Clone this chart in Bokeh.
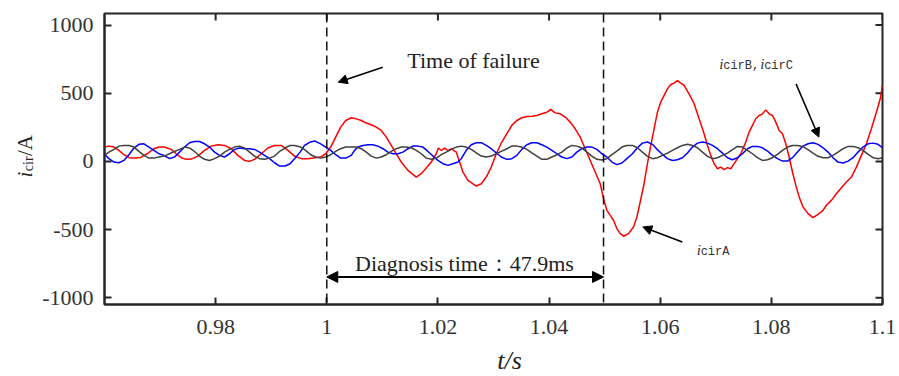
import math
from bokeh.plotting import figure
from bokeh.layouts import row, column
from bokeh.models import (Range1d, FixedTicker, Span, Arrow, NormalHead, Label)
from bokeh.embed import file_html
from bokeh.resources import INLINE

# ---------------- data ----------------
t_a = [0.9599, 0.9608, 0.9617, 0.9626, 0.9635, 0.9644, 0.9653, 0.9665, 0.9677, 0.9689,
       0.9698, 0.9707, 0.9720, 0.9729, 0.9738, 0.9747, 0.9756, 0.9768, 0.9780, 0.9792,
       0.9804, 0.9816, 0.9828, 0.9840, 0.9852, 0.9861, 0.9870, 0.9882, 0.9894, 0.9906,
       0.9918, 0.9930, 0.9942, 0.9954, 0.9966, 0.9979, 0.9989, 0.9998, 1.0007, 1.0016,
       1.0025, 1.0034, 1.0044, 1.0053, 1.0062, 1.0071, 1.0080, 1.0089, 1.0098, 1.0107,
       1.0116, 1.0125, 1.0134, 1.0146, 1.0161, 1.0170, 1.0179, 1.0188, 1.0197, 1.0201,
       1.0206, 1.0212, 1.0218, 1.0224, 1.0233, 1.0239, 1.0245, 1.0254, 1.0269, 1.0278,
       1.0287, 1.0296, 1.0305, 1.0315, 1.0324, 1.0333, 1.0342, 1.0351, 1.0360, 1.0369,
       1.0378, 1.0387, 1.0396, 1.0403, 1.0411, 1.0420, 1.0429, 1.0438, 1.0447, 1.0456,
       1.0465, 1.0474, 1.0483, 1.0492, 1.0498, 1.0504, 1.0510, 1.0516, 1.0522, 1.0528,
       1.0534, 1.0543, 1.0552, 1.0558, 1.0564, 1.0571, 1.0577, 1.0583, 1.0589, 1.0595,
       1.0601, 1.0607, 1.0613, 1.0619, 1.0625, 1.0631, 1.0637, 1.0643, 1.0649, 1.0655,
       1.0661, 1.0667, 1.0673, 1.0679, 1.0685, 1.0691, 1.0697, 1.0703, 1.0709, 1.0715,
       1.0721, 1.0727, 1.0733, 1.0739, 1.0745, 1.0754, 1.0760, 1.0766, 1.0772, 1.0778,
       1.0784, 1.0790, 1.0796, 1.0802, 1.0808, 1.0814, 1.0820, 1.0826, 1.0832, 1.0838,
       1.0844, 1.0851, 1.0857, 1.0866, 1.0875, 1.0884, 1.0893, 1.0899, 1.0908, 1.0917,
       1.0926, 1.0935, 1.0944, 1.0953, 1.0962, 1.0971, 1.0980, 1.0989, 1.0996, 1.1000]
i_a = [105, 112, 105, 81, 49, 27, 24, 29, 56, 93,
       105, 105, 88, 56, 27, 15, 17, 39, 81, 112,
       122, 117, 93, 44, 7, 0, 15, 56, 98, 117,
       117, 81, 39, 20, 20, 27, 32, 56, 105, 178,
       251, 300, 320, 312, 300, 281, 269, 251, 227, 178,
       117, 56, -5, -66, -115, -90, -49, -5, 56, 98,
       80, 98, 80, 92, 68, -5, -78, -139, -181, -164,
       -115, -42, 56, 142, 203, 264, 300, 320, 330, 332,
       337, 349, 361, 381, 356, 349, 325, 288, 239, 178,
       93, 7, -78, -164, -273, -359, -396, -432, -493, -530,
       -549, -530, -481, -408, -298, -164, -17, 117, 239, 361,
       435, 484, 532, 564, 574, 593, 574, 557, 515, 471,
       423, 349, 276, 203, 117, 44, -17, -54, -42, -61,
       -46, -54, -17, 20, 56, 142, 215, 264, 313, 337,
       349, 378, 349, 337, 288, 227, 203, 129, 32, -78,
       -176, -273, -334, -383, -413, -388, -359, -322, -286, -237,
       -193, -151, -115, -42, 44, 129, 239, 361, 459, 560]

t_b = [0.9599, 0.9608, 0.9617, 0.9626, 0.9635, 0.9644, 0.9653, 0.9662, 0.9671, 0.9680,
       0.9689, 0.9698, 0.9707, 0.9717, 0.9726, 0.9735, 0.9744, 0.9753, 0.9762, 0.9771,
       0.9780, 0.9789, 0.9798, 0.9807, 0.9816, 0.9825, 0.9834, 0.9843, 0.9852, 0.9861,
       0.9870, 0.9879, 0.9888, 0.9897, 0.9906, 0.9915, 0.9925, 0.9934, 0.9942, 0.9952,
       0.9960, 0.9970, 0.9979, 0.9989, 0.9998, 1.0007, 1.0016, 1.0025, 1.0034, 1.0044,
       1.0050, 1.0056, 1.0065, 1.0074, 1.0083, 1.0092, 1.0101, 1.0110, 1.0119, 1.0128,
       1.0137, 1.0146, 1.0155, 1.0164, 1.0173, 1.0182, 1.0191, 1.0200, 1.0209, 1.0218,
       1.0227, 1.0236, 1.0242, 1.0251, 1.0260, 1.0269, 1.0278, 1.0287, 1.0296, 1.0305,
       1.0314, 1.0324, 1.0333, 1.0342, 1.0351, 1.0360, 1.0369, 1.0378, 1.0387, 1.0396,
       1.0405, 1.0414, 1.0423, 1.0432, 1.0441, 1.0450, 1.0459, 1.0468, 1.0477, 1.0486,
       1.0495, 1.0504, 1.0513, 1.0522, 1.0531, 1.0540, 1.0550, 1.0559, 1.0568, 1.0577,
       1.0586, 1.0595, 1.0604, 1.0613, 1.0622, 1.0631, 1.0640, 1.0649, 1.0658, 1.0667,
       1.0676, 1.0685, 1.0694, 1.0703, 1.0712, 1.0721, 1.0730, 1.0739, 1.0748, 1.0757,
       1.0766, 1.0775, 1.0784, 1.0793, 1.0802, 1.0811, 1.0820, 1.0829, 1.0838, 1.0847,
       1.0856, 1.0866, 1.0875, 1.0884, 1.0893, 1.0902, 1.0911, 1.0920, 1.0929, 1.0938,
       1.0947, 1.0956, 1.0965, 1.0974, 1.0983, 1.0992, 1.1000]
i_b = [56, 20, -5, -10, 7, 49, 98, 125, 129, 105,
       81, 56, 44, 20, 32, 68, 105, 137, 146, 146,
       129, 105, 68, 44, 32, 56, 88, 98, 93, 93,
       88, 68, 44, 20, -10, -34, -34, -17, 20, 68,
       117, 142, 149, 129, 105, 81, 49, 24, 24, 44,
       81, 105, 117, 122, 122, 112, 93, 68, 56, 56,
       68, 93, 112, 112, 105, 73, 39, 7, -17, -29,
       -17, -5, 20, 81, 122, 137, 137, 117, 93, 63,
       32, 15, 20, 44, 88, 122, 137, 137, 122, 105,
       81, 56, 32, 20, 32, 68, 93, 105, 105, 88,
       56, 32, -5, -24, -12, 20, 56, 100, 134, 142,
       125, 86, 51, 20, 7, 12, 27, 61, 105, 134,
       142, 134, 117, 93, 61, 27, 12, 27, 56, 93,
       110, 110, 100, 76, 44, 20, 2, 2, 27, 68,
       110, 129, 137, 125, 100, 68, 27, -5, -12, 2,
       27, 68, 105, 129, 134, 125, 100]

t_c = [0.9599, 0.9608, 0.9617, 0.9626, 0.9635, 0.9644, 0.9653, 0.9662, 0.9671, 0.9680,
       0.9689, 0.9698, 0.9707, 0.9717, 0.9726, 0.9735, 0.9744, 0.9753, 0.9762, 0.9771,
       0.9780, 0.9789, 0.9798, 0.9807, 0.9816, 0.9825, 0.9834, 0.9843, 0.9852, 0.9861,
       0.9870, 0.9879, 0.9888, 0.9897, 0.9906, 0.9915, 0.9925, 0.9934, 0.9942, 0.9953,
       0.9962, 0.9971, 0.9980, 0.9989, 0.9998, 1.0007, 1.0016, 1.0025, 1.0034, 1.0044,
       1.0053, 1.0062, 1.0071, 1.0080, 1.0089, 1.0098, 1.0107, 1.0116, 1.0125, 1.0134,
       1.0143, 1.0153, 1.0161, 1.0170, 1.0179, 1.0188, 1.0197, 1.0206, 1.0215, 1.0224,
       1.0233, 1.0242, 1.0251, 1.0260, 1.0269, 1.0278, 1.0287, 1.0296, 1.0305, 1.0314,
       1.0324, 1.0333, 1.0342, 1.0351, 1.0360, 1.0369, 1.0378, 1.0387, 1.0396, 1.0405,
       1.0414, 1.0423, 1.0432, 1.0441, 1.0450, 1.0459, 1.0468, 1.0477, 1.0486, 1.0495,
       1.0504, 1.0513, 1.0522, 1.0531, 1.0540, 1.0550, 1.0559, 1.0568, 1.0577, 1.0586,
       1.0595, 1.0604, 1.0613, 1.0622, 1.0631, 1.0640, 1.0649, 1.0658, 1.0667, 1.0676,
       1.0685, 1.0694, 1.0703, 1.0712, 1.0721, 1.0730, 1.0739, 1.0748, 1.0757, 1.0766,
       1.0775, 1.0784, 1.0793, 1.0802, 1.0811, 1.0820, 1.0829, 1.0838, 1.0847, 1.0856,
       1.0866, 1.0875, 1.0884, 1.0893, 1.0902, 1.0911, 1.0920, 1.0929, 1.0938, 1.0947,
       1.0956, 1.0965, 1.0974, 1.0983, 1.0992, 1.1000]
i_c = [44, 68, 88, 112, 117, 117, 105, 73, 44, 24,
       24, 32, 39, 56, 73, 88, 105, 98, 73, 39,
       15, 7, 20, 39, 68, 88, 105, 112, 98, 68,
       39, 20, 15, 24, 39, 73, 98, 117, 117, 105,
       81, 49, 32, 24, 32, 49, 73, 93, 105, 105,
       105, 93, 68, 39, 24, 32, 49, 73, 93, 105,
       105, 98, 81, 56, 24, 15, 24, 49, 68, 88,
       105, 112, 105, 88, 63, 39, 32, 39, 56, 73,
       93, 112, 112, 105, 88, 63, 39, 15, 15, 32,
       49, 68, 98, 117, 112, 98, 68, 39, 15, 10,
       20, 50, 75, 105, 117, 117, 100, 68, 37, 20,
       27, 44, 61, 81, 100, 117, 125, 117, 100, 68,
       37, 20, 27, 44, 61, 86, 110, 105, 81, 56,
       27, 7, 12, 27, 51, 81, 105, 117, 117, 110,
       86, 61, 37, 27, 27, 44, 68, 93, 110, 110,
       100, 81, 51, 27, 20, 27]

x_ticks = [0.98, 1.0, 1.02, 1.04, 1.06, 1.08, 1.1]
x_tick_labels = ["0.98", "1", "1.02", "1.04", "1.06", "1.08", "1.1"]
y_ticks = [-1000, -500, 0, 500, 1000]
y_tick_labels = ["-1000", "-500", "0", "500", "1000"]

t_fault = 1.0
t_detect = 1.0498
y_diag = -848

X0, X1 = 0.96, 1.1
Y0, Y1 = -1050, 1085

SERIF = "Liberation Serif"
MONO = "Liberation Mono"
AX = "#262626"
TXT = "#333333"
DARK = "#222222"

# frame geometry (pixels)
YSTRIP_W = 38
TOP_H = 345
BORDER_TOP = 13
BORDER_BOTTOM = TOP_H - 304
FRAME_W = 778
FRAME_H = TOP_H - BORDER_TOP - BORDER_BOTTOM
TICK = 7

xr = Range1d(X0, X1)
yr = Range1d(Y0, Y1)

p = figure(width=899 - YSTRIP_W, height=TOP_H, output_backend="svg",
           toolbar_location=None, x_range=xr, y_range=yr,
           min_border_left=104 - YSTRIP_W, min_border_right=17,
           min_border_top=BORDER_TOP, min_border_bottom=BORDER_BOTTOM)
p.background_fill_color = "white"
p.border_fill_color = "white"
p.outline_line_color = AX
p.outline_line_width = 2
p.xgrid.visible = False
p.ygrid.visible = False


def style_axis(ax, ticks, labels, standoff):
    ax.ticker = FixedTicker(ticks=ticks)
    ax.major_label_overrides = {tk: lb for tk, lb in zip(ticks, labels)}
    ax.axis_line_color = AX
    ax.axis_line_width = 2
    ax.major_tick_line_color = AX
    ax.major_tick_line_width = 2
    ax.major_tick_in = TICK
    ax.major_tick_out = 0
    ax.minor_tick_in = 0
    ax.minor_tick_out = 0
    ax.major_label_text_font = SERIF
    ax.major_label_text_color = TXT
    ax.major_label_text_font_size = "22px"
    ax.major_label_standoff = standoff


style_axis(p.xaxis[0], x_ticks, x_tick_labels, 15)
style_axis(p.yaxis[0], y_ticks, y_tick_labels, 11)

# inward ticks on the top and right edges of the box
dy_tick = TICK * (Y1 - Y0) / FRAME_H
dx_tick = TICK * (X1 - X0) / FRAME_W
p.segment(x0=x_ticks, y0=[Y1] * len(x_ticks), x1=x_ticks,
          y1=[Y1 - dy_tick] * len(x_ticks), line_color=AX, line_width=2)
p.segment(x0=[X1] * len(y_ticks), y0=y_ticks, x1=[X1 - dx_tick] * len(y_ticks),
          y1=y_ticks, line_color=AX, line_width=2)

# curves
p.line(t_a, i_a, line_color="#ff0000", line_width=1.5)
p.line(t_b, i_b, line_color="#0000ff", line_width=1.5)
p.line(t_c, i_c, line_color="#404040", line_width=1.5)

# dashed event lines
for loc in (t_fault, t_detect):
    p.add_layout(Span(location=loc, dimension="height", line_color="#111111",
                      line_width=1.5, line_dash="9 5"))

# diagnosis arrow
p.add_layout(Arrow(start=NormalHead(size=11, fill_color="black", line_color="black"),
                   end=NormalHead(size=11, fill_color="black", line_color="black"),
                   x_start=t_fault, y_start=y_diag, x_end=t_detect, y_end=y_diag,
                   line_color="black", line_width=2))
p.add_layout(Label(x=1.02477, y=-750, text="Diagnosis time：47.9ms",
                   text_font=SERIF, text_font_size="22px", text_color=DARK,
                   text_align="center", text_baseline="middle"))

# time of failure
p.add_layout(Label(x=1.02640, y=739, text="Time of failure",
                   text_font=SERIF, text_font_size="22px", text_color=DARK,
                   text_align="center", text_baseline="middle"))
p.add_layout(Arrow(end=NormalHead(size=9, fill_color="black", line_color="black"),
                   x_start=1.01008, y_start=691, x_end=1.00206, y_end=581,
                   line_color="black", line_width=1.5))

# i_cirB, i_cirC
for (xi, xs, sub) in ((1.07061, 1.07133, "cirB,"), (1.07798, 1.07870, "cirC")):
    p.add_layout(Label(x=xi, y=717, text="i", text_font=SERIF, text_font_style="italic",
                       text_font_size="15px", text_color=TXT,
                       text_align="left", text_baseline="middle"))
    p.add_layout(Label(x=xs, y=699, text=sub, text_font=MONO,
                       text_font_size="12px", text_color=TXT,
                       text_align="left", text_baseline="middle"))
p.add_layout(Arrow(end=NormalHead(size=9, fill_color="black", line_color="black"),
                   x_start=1.08444, y_start=569, x_end=1.08855, y_end=178,
                   line_color="black", line_width=1.5))

# i_cirA
p.add_layout(Label(x=1.06659, y=-648, text="i", text_font=SERIF, text_font_style="italic",
                   text_font_size="15px", text_color=TXT,
                   text_align="left", text_baseline="middle"))
p.add_layout(Label(x=1.06728, y=-666, text="cirA", text_font=MONO,
                   text_font_size="12px", text_color=TXT,
                   text_align="left", text_baseline="middle"))
p.add_layout(Arrow(end=NormalHead(size=9, fill_color="black", line_color="black"),
                   x_start=1.06398, y_start=-591, x_end=1.05687, y_end=-481,
                   line_color="black", line_width=1.5))


def blank_fig(w, h, x_range, y_range, **borders):
    f = figure(width=w, height=h, output_backend="svg", toolbar_location=None,
               x_range=x_range, y_range=y_range,
               x_axis_location=None, y_axis_location=None, **borders)
    f.xgrid.visible = False
    f.ygrid.visible = False
    f.outline_line_color = None
    f.background_fill_color = "white"
    f.border_fill_color = "white"
    return f


# y-axis title strip (shares the y range of the main plot)
yfig = blank_fig(YSTRIP_W, TOP_H, Range1d(0, YSTRIP_W), yr, min_border_left=0,
                 min_border_right=0, min_border_top=BORDER_TOP,
                 min_border_bottom=BORDER_BOTTOM)
yfig.add_layout(Label(x=24, y=-119, text="i", text_font=SERIF, text_font_style="italic",
                      text_font_size="21px", text_color=DARK, angle=math.pi / 2,
                      text_align="left", text_baseline="middle"))
yfig.add_layout(Label(x=27.5, y=-72, text="cir", text_font=SERIF,
                      text_font_size="14px", text_color=DARK, angle=math.pi / 2,
                      text_align="left", text_baseline="middle"))
yfig.add_layout(Label(x=24, y=39, text="/A", text_font=SERIF,
                      text_font_size="21px", text_color=DARK, angle=math.pi / 2,
                      text_align="left", text_baseline="middle"))

# x-axis title strip
XSTRIP_H = 376 - TOP_H
xfig = blank_fig(899, XSTRIP_H, Range1d(0, 899), Range1d(0, XSTRIP_H),
                 min_border_left=0, min_border_right=0, min_border_top=0,
                 min_border_bottom=0)
xfig.add_layout(Label(x=509, y=XSTRIP_H - 15, text="t/s", text_font=SERIF,
                      text_font_style="italic", text_font_size="26px", text_color=DARK,
                      text_align="center", text_baseline="middle"))

layout = column(row(yfig, p, spacing=0), xfig, spacing=0)
open("out.html", "w").write(file_html(layout, INLINE))
